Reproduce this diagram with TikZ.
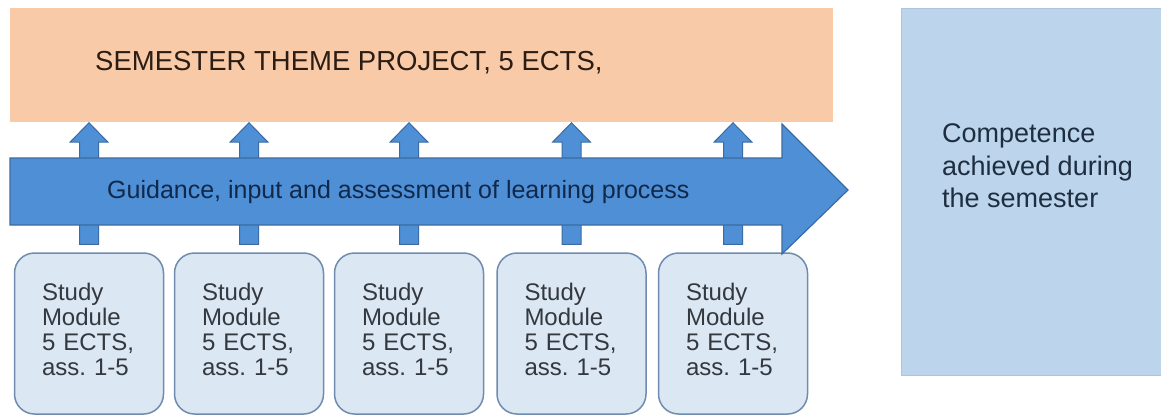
\documentclass[tikz,border=0pt]{standalone}
\usepackage{fontspec}
\setmainfont{Liberation Sans}
\usetikzlibrary{calc}
\frenchspacing
\definecolor{peach}{HTML}{F9CAA7}
\definecolor{flowblue}{HTML}{4F8FD6}
\definecolor{flowedge}{HTML}{3A6CA3}
\definecolor{modfill}{HTML}{DCE7F4}
\definecolor{modedge}{HTML}{6F8CAF}
\definecolor{compfill}{HTML}{BCD5EC}
\definecolor{compedge}{HTML}{AFC4DA}
\definecolor{projink}{HTML}{2B1D14}
\definecolor{flowink}{HTML}{10284A}
\definecolor{modink}{HTML}{33383F}
\definecolor{compink}{HTML}{1E2E40}
\tikzset{
  projbox/.style={rectangle, fill=peach, minimum width=823pt, minimum height=114pt, inner sep=0pt},
  projtext/.style={inner sep=0pt, text=projink, font=\fontsize{27.5}{33}\selectfont},
  flowtext/.style={inner sep=0pt, text=flowink, font=\fontsize{25}{30}\selectfont},
  module/.style={rectangle, rounded corners=20pt, fill=modfill, draw=modedge, line width=1.5pt,
    minimum width=149pt, minimum height=161pt, inner sep=0pt, text width=94pt, align=left,
    text=modink, font=\fontsize{24}{25}\selectfont},
  compbox/.style={rectangle, fill=compfill, draw=compedge, line width=1pt, minimum width=260pt, minimum height=367pt, inner sep=0pt},
  comptext/.style={inner sep=0pt, align=left, text=compink, font=\fontsize{27}{32.5}\selectfont},
  uparrow/.style={fill=flowblue, draw=flowedge, line width=1pt, line join=miter},
  bigarrow/.style={fill=flowblue, draw=flowedge, line width=1.2pt, line join=miter}
}
\newcommand{\modtext}{Study\\Module\\5 ECTS,\\ass. 1-5\rule[-7.5pt]{0pt}{7.5pt}}
\begin{document}
\begin{tikzpicture}[x=1pt,y=-1pt]
\useasboundingbox[fill=white] (0,0) rectangle (1161,416);
% project box
\node[projbox] (proj) at (421.5,65) {};
\node[projtext, anchor=base west] (projtxt) at (95,70) {SEMESTER THEME PROJECT, 5 ECTS,};
% modules
\node[module] (m1) at (89,333.5) {\modtext};
\node[module] (m2) at (249,333.5) {\modtext};
\node[module] (m3) at (409,333.5) {\modtext};
\node[module] (m4) at (571.5,333.5) {\modtext};
\node[module] (m5) at (733,333.5) {\modtext};
% small up arrows from modules to project
\foreach \i in {1,...,5}{
  \filldraw[uparrow] let \p1=(m\i.north), \p2=(proj.south) in
    (\x1-9.5pt,\y1+8pt) -- (\x1-9.5pt,\y2-20pt) -- (\x1-19pt,\y2-20pt) -- (\x1,\y2-0.5pt)
    -- (\x1+19pt,\y2-20pt) -- (\x1+9.5pt,\y2-20pt) -- (\x1+9.5pt,\y1+8pt) -- cycle;
}
% big process arrow
\coordinate (flowstart) at (10,191);
\coordinate (flowtip) at (848,190);
\filldraw[bigarrow] (flowstart |- 0,158) -- (782,158) -- (782,124) -- (flowtip) -- (782,254) -- (782,225) -- (flowstart |- 0,225) -- cycle;
\node[flowtext, anchor=base west] (flowtxt) at (107,198) {Guidance, input and assessment of learning process};
% competence box
\node[compbox] (comp) at (1031,191.5) {};
\node[comptext, anchor=north west] (comptxt) at (942,123.5) {Competence\\achieved during\\the semester};
\end{tikzpicture}
\end{document}
